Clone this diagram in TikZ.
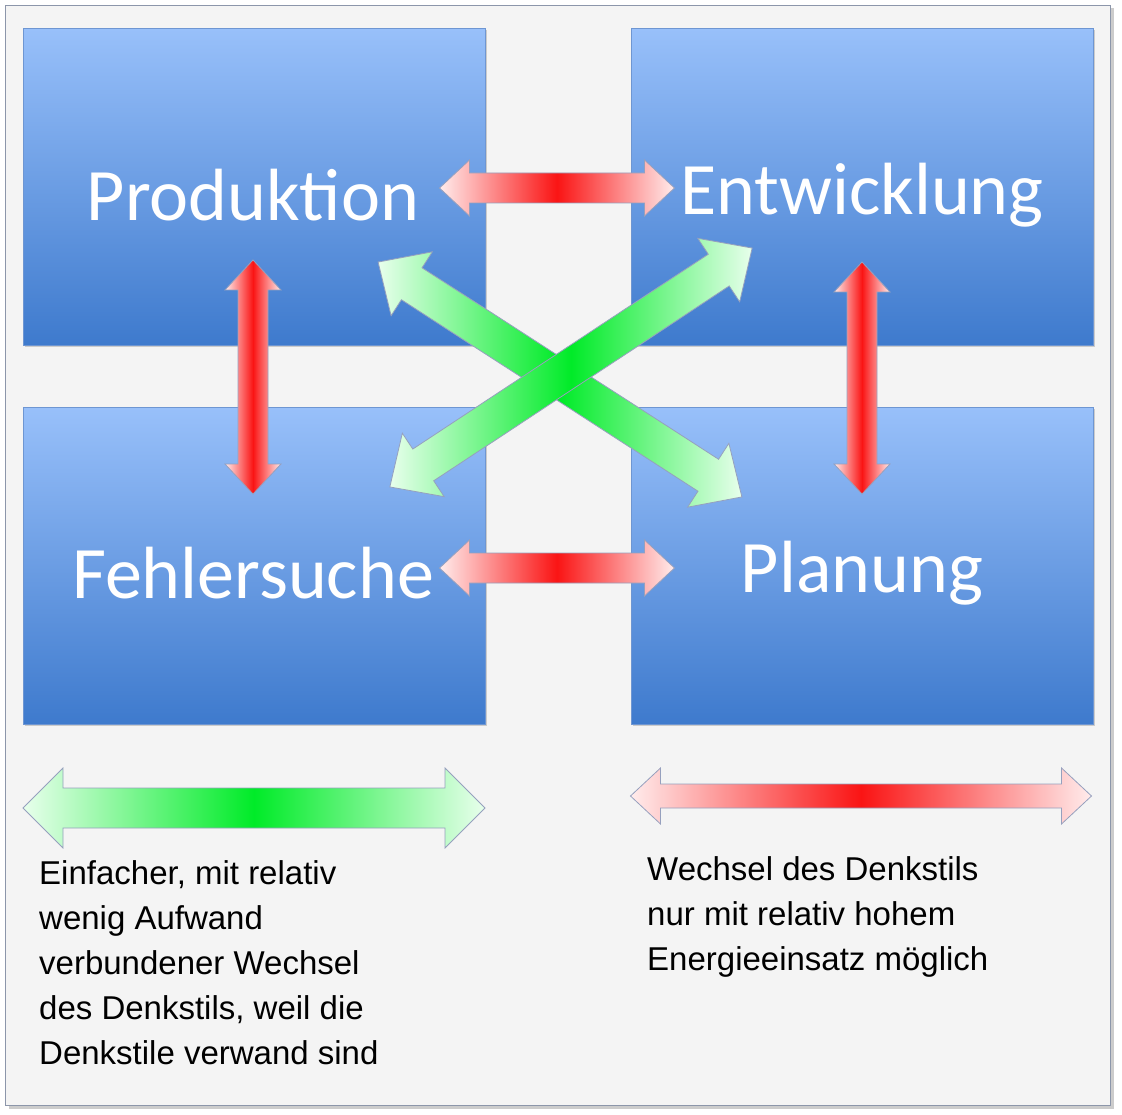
\documentclass[tikz,border=0pt]{standalone}
\usepackage{fontspec}
\setmainfont{Liberation Sans}
\newfontfamily\boxfont{Carlito}
\usetikzlibrary{shadows}
\definecolor{frameF}{RGB}{244,244,244}
\definecolor{frameD}{RGB}{140,150,170}
\definecolor{boxT}{RGB}{152,192,250}
\definecolor{boxB}{RGB}{62,122,205}
\definecolor{boxD}{RGB}{110,150,210}
\definecolor{redC}{RGB}{250,20,20}
\definecolor{redE}{RGB}{255,236,236}
\definecolor{grnC}{RGB}{0,235,40}
\definecolor{grnE}{RGB}{232,255,236}
\definecolor{arrD}{RGB}{150,160,190}
\newcommand{\dblarrow}[8]{%
 \begin{scope}[shift={(#1,#2)},rotate=#3]
 \pgfmathsetmacro{\aa}{#4/2}
 \path[draw=arrD,line width=0.8pt,#8] (-\aa,0)--(-\aa+#7,#6)--(-\aa+#7,#5)--(\aa-#7,#5)--(\aa-#7,#6)--(\aa,0)--(\aa-#7,-#6)--(\aa-#7,-#5)--(-\aa+#7,-#5)--(-\aa+#7,-#6)--cycle;
 \end{scope}}
\tikzset{
 bx/.style={draw=boxD,line width=0.6pt,top color=boxT,bottom color=boxB,minimum width=462pt,minimum height=317pt,anchor=north west,inner sep=0pt,drop shadow={shadow xshift=2pt,shadow yshift=-2pt,opacity=0.35}},
 lbl/.style={text=white,font=\boxfont\fontsize{74}{80}\selectfont,inner sep=0pt},
 redA/.style={left color=redE,right color=redE,middle color=redC},
 grnA/.style={left color=grnE,right color=grnE,middle color=grnC},
 leg/.style={font=\fontsize{33}{45}\selectfont,align=left,anchor=north west,inner sep=0pt}
}
\begin{document}
\begin{tikzpicture}[x=1pt,y=-1pt]
\useasboundingbox (0,0) rectangle (1122,1115);
\node[draw=frameD,fill=frameF,line width=1pt,minimum width=1105pt,minimum height=1100pt,anchor=north west,inner sep=0pt,drop shadow={shadow xshift=3pt,shadow yshift=-3pt,opacity=0.4}] (frame) at (5,5) {};
\node[bx] (p) at (23,28) {};
\node[bx] (e) at (631,28) {};
\node[bx] (f) at (23,407) {};
\node[bx] (pl) at (631,407) {};
\node[lbl] (pt) at (253,195) {Produktion};
\node[lbl] (et) at (862,195) {Entwicklung};
\node[lbl] (ft) at (253,573) {Fehlersuche};
\node[lbl] (plt) at (862,573) {Planung};
% red arrows
\dblarrow{557}{188}{0}{235}{15}{28}{30}{redA}
\dblarrow{557}{568}{0}{235}{15}{28}{30}{redA}
\dblarrow{253}{377}{90}{234}{15}{28}{30}{redA}
\dblarrow{862}{378}{90}{232}{15}{28}{30}{redA}
% green diagonals
\dblarrow{560}{379.5}{-32.85}{433}{19}{38}{40}{grnA}
\dblarrow{571}{367.5}{33.4}{434}{19}{38}{40}{grnA}
% legend
\dblarrow{254}{808}{0}{462}{20}{40}{40}{grnA}
\dblarrow{861}{796}{0}{461}{12}{28}{30}{redA}
\node[leg] (lt) at (39,860) {Einfacher, mit relativ\\wenig Aufwand\\verbundener Wechsel\\des Denkstils, weil die\\Denkstile verwand sind};
\node[leg] (rt) at (647,856) {Wechsel des Denkstils\\nur mit relativ hohem\\Energieeinsatz möglich};
\end{tikzpicture}
\end{document}
